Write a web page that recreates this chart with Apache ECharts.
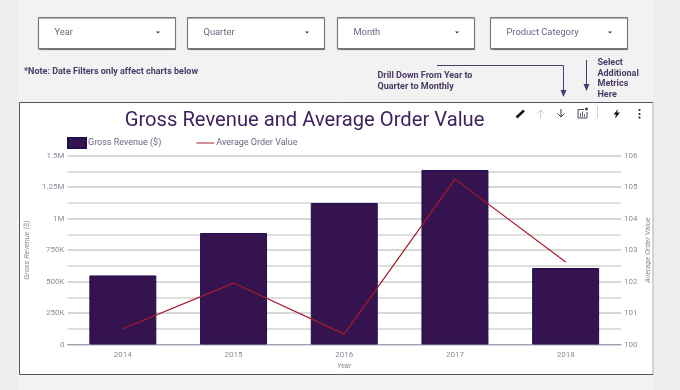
<!DOCTYPE html>
<html><head><meta charset="utf-8">
<style>html,body{margin:0;padding:0;background:#f2f2f2}#c{width:680px;height:390px}</style>
<script src="https://cdn.jsdelivr.net/npm/echarts@6/dist/echarts.min.js"></script>
</head><body><div id="c"></div>
<script>
const years = ['2014','2015','2016','2017','2018'];
const grossRevenue = [548000, 885000, 1123000, 1385000, 607000];
const avgOrderValue = [100.5, 101.95, 100.33, 105.25, 102.62];
const filters = ['Year','Quarter','Month','Product Category'];

const F = 'Roboto, sans-serif', ink = '#4a3a66', purple = '#3d1f5c', grey = '#8f8a99';
const boxes = [[38.5,137],[187.5,137],[337.5,137],[490.5,137]];
const g = [];
g.push({type:'rect',z:-5,shape:{x:0,y:0,width:17,height:390},style:{fill:'#ededed'}});
g.push({type:'rect',z:-5,shape:{x:653,y:0,width:27,height:390},style:{fill:'#ededed'}});
g.push({type:'rect',z:-4,shape:{x:19.5,y:102.5,width:633.5,height:272},style:{fill:'#fff',stroke:'#55535c',lineWidth:1}});
g.push({type:'rect',z:-3,shape:{x:652.5,y:103,width:1,height:271},style:{fill:'#fff'}});
filters.forEach((t,i)=>{
  const [x,w]=boxes[i];
  g.push({type:'rect',shape:{x:x,y:17.5,width:w,height:31},style:{fill:'#fff',stroke:'#77757c',lineWidth:1,shadowColor:'rgba(0,0,0,.35)',shadowOffsetY:1,shadowBlur:1}});
  g.push({type:'text',x:x+16,y:32.5,style:{text:t,font:'9.3px '+F,fill:'#6e6480',verticalAlign:'middle'}});
  g.push({type:'polygon',shape:{points:[[x+117.5,31.5],[x+121.5,31.5],[x+119.5,33.5]]},style:{fill:'#3a3444'}});
});
g.push({type:'text',x:24,y:72,style:{text:'*Note: Date Filters only affect charts below',font:'bold 9px '+F,fill:ink,verticalAlign:'middle'}});
g.push({type:'text',x:377.5,y:76,style:{text:'Drill Down From Year to',font:'bold 9px '+F,fill:ink,verticalAlign:'middle'}});
g.push({type:'text',x:377.5,y:87,style:{text:'Quarter to Monthly',font:'bold 9px '+F,fill:ink,verticalAlign:'middle'}});
['Select','Additional','Metrics','Here'].forEach((t,i)=>g.push({type:'text',x:597.5,y:63+i*10.5,style:{text:t,font:'bold 9px '+F,fill:ink,verticalAlign:'middle'}}));
g.push({type:'polyline',shape:{points:[[437,65.5],[563.5,65.5],[563.5,92]]},style:{stroke:'#4d3a6e',lineWidth:1,fill:null}});
g.push({type:'polygon',shape:{points:[[560.5,90],[566.5,90],[563.5,97]]},style:{fill:'#4d3a6e'}});
g.push({type:'line',shape:{x1:586.5,y1:60,x2:586.5,y2:85},style:{stroke:'#4d3a6e',lineWidth:1}});
g.push({type:'polygon',shape:{points:[[583.5,84],[589.5,84],[586.5,91]]},style:{fill:'#4d3a6e'}});
// toolbar icons
g.push({type:'line',shape:{x1:516.5,y1:117.5,x2:524,y2:110.5},style:{stroke:'#15121c',lineWidth:2.6}});
g.push({type:'polyline',shape:{points:[[537,113.5],[540.5,110],[544,113.5]]},style:{stroke:'#c8c6cc',lineWidth:1,fill:null}});
g.push({type:'line',shape:{x1:540.5,y1:110,x2:540.5,y2:118},style:{stroke:'#c8c6cc',lineWidth:1}});
g.push({type:'polyline',shape:{points:[[557.5,113.5],[561,117],[564.5,113.5]]},style:{stroke:'#3a3444',lineWidth:1,fill:null}});
g.push({type:'line',shape:{x1:561,y1:109,x2:561,y2:117},style:{stroke:'#3a3444',lineWidth:1}});
g.push({type:'polyline',shape:{points:[[584,109.5],[578,109.5],[578,118],[587,118],[587,112]]},style:{fill:null,stroke:'#4a4652',lineWidth:1}});
[[580,113,4],[582,111.5,5.5],[584,114,3]].forEach(([x,y,h])=>g.push({type:'line',shape:{x1:x+.5,y1:y,x2:x+.5,y2:y+h},style:{stroke:'#6a6670',lineWidth:1}}));
g.push({type:'circle',shape:{cx:586.5,cy:109,r:1.6},style:{fill:'#4a4652'}});
g.push({type:'line',shape:{x1:597.5,y1:106,x2:597.5,y2:118},style:{stroke:'#cfcfd2',lineWidth:1}});
g.push({type:'polygon',shape:{points:[[618,109],[613.5,114.5],[616,114.5],[615,118.5],[620,112.5],[617,112.5]]},style:{fill:'#15121c'}});
[110,114,117.5].forEach(y=>g.push({type:'circle',shape:{cx:639.5,cy:y,r:1.1},style:{fill:'#23202b'}}));

const axisText = {color:grey,fontSize:8,fontFamily:F};
const nameText = {color:grey,fontSize:7.5,fontFamily:F,fontStyle:'italic'};
const chart = echarts.init(document.getElementById('c'),null,{renderer:'canvas'});
chart.setOption({
  backgroundColor:'#f2f2f2',
  animation:false,
  textStyle:{fontFamily:F},
  graphic:g,
  title:{text:'Gross Revenue and Average Order Value',left:299.5,top:106,textAlign:'center',
    textStyle:{color:purple,fontSize:20.2,fontWeight:'normal',fontFamily:F}},
  legend:{left:67,top:137,padding:0,itemWidth:18,itemHeight:10,itemGap:35,
    textStyle:{color:'#6e6480',fontSize:9,fontFamily:F,padding:[0,0,0,-3]},
    data:[{name:'Gross Revenue ($)',icon:'rect'},
          {name:'Average Order Value',icon:'path://M0,4.5 L18,4.5 L18,5.5 L0,5.5 Z',itemStyle:{color:'#a51c2c'}}]},
  grid:{left:67.5,right:59,top:155.5,bottom:45.5,containLabel:false},
  xAxis:{type:'category',data:years,name:'Year',nameLocation:'middle',nameGap:18,nameTextStyle:nameText,
    axisTick:{show:false},axisLine:{lineStyle:{color:'#a79db5',width:1}},axisLabel:{...axisText,margin:6}},
  yAxis:[{type:'value',min:0,max:1500000,interval:250000,name:'Gross Revenue ($)',nameLocation:'middle',nameGap:36,
      nameTextStyle:nameText,axisLine:{show:false},axisTick:{show:false},
      axisLabel:{...axisText,margin:3,formatter:v=>v===0?'0':v>=1000000?(v/1000000)+'M':(v/1000)+'K'},
      splitLine:{show:true,lineStyle:{color:'#cacaca',width:1.5}},
      minorTick:{show:false,splitNumber:2},minorSplitLine:{show:true,lineStyle:{color:'#d4d4d4',width:1.5}}},
    {type:'value',min:100,max:106,interval:1,name:'Average Order Value',nameLocation:'middle',nameGap:27,nameRotate:90,nameMoveOverlap:false,
      nameTextStyle:{...nameText,verticalAlign:'middle'},axisLine:{show:false},axisTick:{show:false},
      axisLabel:{...axisText,margin:3},splitLine:{show:false}}],
  series:[
    {name:'Gross Revenue ($)',type:'bar',yAxisIndex:0,data:grossRevenue,barWidth:'60.5%',z:2,
      itemStyle:{color:'#35134f',borderColor:'#1e1050',borderWidth:1}},
    {name:'Average Order Value',type:'line',yAxisIndex:1,data:avgOrderValue,symbol:'none',z:3,
      itemStyle:{color:'#a51c2c'},lineStyle:{color:'#a51c2c',width:1.2}}
  ]
});
</script></body></html>
